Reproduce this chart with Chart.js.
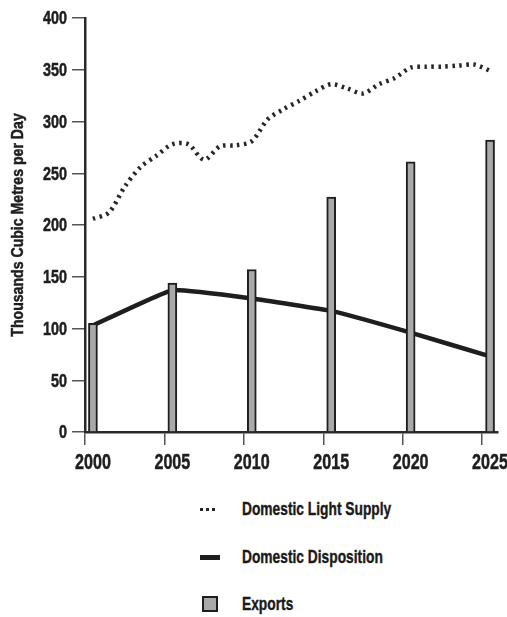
<!DOCTYPE html>
<html>
<head>
<meta charset="utf-8">
<script src="https://cdn.jsdelivr.net/npm/chart.js@4"></script>
<style>
  body { margin: 0; background: #fff; }
  #wrap { position: relative; width: 507px; height: 617px; }
  #chart { position: absolute; left: 0; top: 0; }
  #legend { position: absolute; left: 200px; top: 494px; font-family: "Liberation Sans", Arial, sans-serif; font-weight: bold; font-size: 19px; color: #1a1a1a; -webkit-text-stroke: 0.4px #1a1a1a; }
  .item { position: relative; height: 47.5px; }
  .item span.txt { position: absolute; left: 42px; top: 4px; white-space: nowrap; transform: scaleX(0.725); transform-origin: left center; }
  .icon { position: absolute; left: 0; top: 16px; }
</style>
</head>
<body>
<div id="wrap">
  <canvas id="chart" width="507" height="480"></canvas>
  <div id="legend"></div>
</div>
<script>
const years = [2000, 2001, 2002, 2003, 2004, 2005, 2006, 2007, 2008, 2009, 2010, 2011, 2012,
  2013, 2014, 2015, 2016, 2017, 2018, 2019, 2020, 2021, 2022, 2023, 2024, 2025];
const lightSupply = [206, 212, 237, 256, 267, 278, 278, 263, 276, 277, 281, 302, 312,
  320, 329, 336, 332, 327, 336, 342, 352, 353, 353, 354, 355, 349];

const fiveYears = [2000, 2005, 2010, 2015, 2020, 2025];
const disposition = [103, 137, 129, 117, 96, 73];
const exportsVol = [105, 144, 157, 227, 261, 282];

const xTicks = [2000, 2005, 2010, 2015, 2020, 2025];
const yTicks = [0, 50, 100, 150, 200, 250, 300, 350, 400];
const yTitle = 'Thousands Cubic Metres per Day';

const FONT = '"Liberation Sans", Arial, sans-serif';
const INK = '#1e1e1e';
const CLEAR = 'rgba(0,0,0,0)';

// annual values are plotted mid-year, between the year ticks
const pts = (xs, ys) => xs.map((x, i) => ({ x: x + 0.5, y: ys[i] }));

// the original uses a heavy condensed face; draw the axis text squeezed sideways
function squeezed(ctx, text, px, py, size, sx, align, rot) {
  ctx.save();
  ctx.translate(px, py);
  if (rot) ctx.rotate(rot);
  ctx.scale(sx, 1);
  ctx.font = 'bold ' + size + 'px ' + FONT;
  ctx.textAlign = align;
  ctx.textBaseline = 'alphabetic';
  ctx.fillText(text, 0, 0);
  ctx.strokeText(text, 0, 0);
  ctx.restore();
}

const axisText = {
  id: 'axisText',
  afterDraw(chart) {
    const { ctx, scales: { x, y }, chartArea } = chart;
    ctx.save();
    ctx.fillStyle = INK;
    ctx.strokeStyle = INK;
    ctx.lineWidth = 0.5;
    yTicks.forEach(v => {
      squeezed(ctx, String(v), 67, y.getPixelForValue(v) + 6.3, 17.5, 0.82, 'right');
    });
    xTicks.forEach(v => {
      squeezed(ctx, String(v), x.getPixelForValue(v + 0.5), 469, 21.5, 0.75, 'center');
    });
    const mid = (chartArea.top + chartArea.bottom) / 2;
    squeezed(ctx, yTitle, 23, mid, 17, 0.83, 'center', -Math.PI / 2);
    ctx.restore();
  }
};

const chart = new Chart(document.getElementById('chart'), {
  type: 'bar',
  data: {
    datasets: [
      {
        type: 'line',
        label: 'Domestic Light Supply',
        data: pts(years, lightSupply),
        borderColor: '#262626',
        borderWidth: 4.5,
        borderDash: [2.5, 4.5],
        pointRadius: 0,
        tension: 0.3,
        order: 2
      },
      {
        type: 'line',
        label: 'Domestic Disposition',
        data: pts(fiveYears, disposition),
        borderColor: INK,
        borderWidth: 4.5,
        pointRadius: 0,
        tension: 0.1,
        order: 1
      },
      {
        type: 'bar',
        label: 'Exports',
        data: pts(fiveYears, exportsVol),
        backgroundColor: '#a8a9ab',
        borderColor: INK,
        borderWidth: 2,
        borderSkipped: 'bottom',
        barThickness: 9,
        order: 0
      }
    ]
  },
  options: {
    responsive: false,
    devicePixelRatio: 1,
    animation: false,
    layout: { padding: { top: 18, right: 9, left: 0, bottom: 0 } },
    plugins: {
      legend: { display: false },
      tooltip: { enabled: false }
    },
    scales: {
      x: {
        type: 'linear',
        min: 2000,
        max: 2026,
        offset: false,
        afterBuildTicks: s => { s.ticks = xTicks.map(v => ({ value: v })); },
        afterFit: s => { s.height = 48; },
        border: { display: true, color: '#2a2a2a', width: 2.5 },
        grid: { offset: false, drawOnChartArea: false, drawTicks: true, tickLength: 13, color: '#555', lineWidth: 1.5 },
        ticks: { color: CLEAR, maxRotation: 0, font: { size: 10 } }
      },
      y: {
        min: 0,
        max: 400,
        afterBuildTicks: s => { s.ticks = yTicks.map(v => ({ value: v })); },
        afterFit: s => { s.width = 85; },
        border: { display: true, color: '#2a2a2a', width: 2.5 },
        grid: { drawOnChartArea: false, drawTicks: true, tickLength: 13, color: '#555', lineWidth: 1.5 },
        ticks: { color: CLEAR, font: { size: 10 } }
      }
    }
  },
  plugins: [axisText]
});

// vertical legend below the plot, built from the datasets
const legend = document.getElementById('legend');
chart.data.datasets.forEach(ds => {
  const row = document.createElement('div');
  row.className = 'item';
  let icon;
  if (ds.borderDash && ds.type === 'line') {
    icon = '<div class="icon" style="width:15px;border-top:3px dotted #262626;top:14px;"></div>';
  } else if (ds.type === 'line') {
    icon = '<div class="icon" style="width:20px;height:5px;background:' + ds.borderColor + ';top:13px;"></div>';
  } else {
    icon = '<div class="icon" style="left:2px;top:7px;width:12px;height:12px;background:' + ds.backgroundColor + ';border:2px solid ' + ds.borderColor + ';"></div>';
  }
  row.innerHTML = icon + '<span class="txt">' + ds.label + '</span>';
  legend.appendChild(row);
});
</script>
</body>
</html>
